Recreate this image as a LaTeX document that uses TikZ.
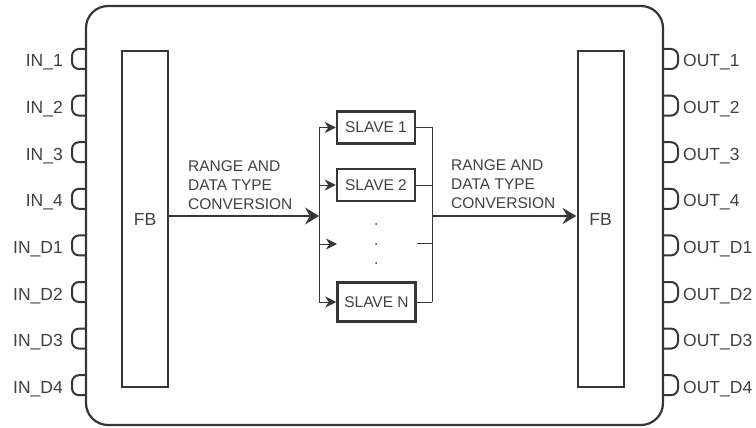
\documentclass[tikz,border=0pt]{standalone}
\usepackage{fontspec}
\setmainfont{Liberation Sans}
\usetikzlibrary{arrows.meta}
\definecolor{ln}{HTML}{363636}
\definecolor{tx}{HTML}{404040}
\begin{document}
\begin{tikzpicture}[x=1pt,y=-1pt,
  every node/.style={text=tx},
  portlbl/.style={font=\fontsize{17.5}{20}\selectfont, inner sep=0pt},
  fbbox/.style={draw=ln, line width=2pt, minimum width=46pt, minimum height=336pt, font=\fontsize{17.5}{20}\selectfont, inner sep=0pt},
  slavebox/.style={draw=ln, line width=2.5pt, minimum width=78pt, minimum height=32pt, font=\fontsize{15.5}{19}\selectfont, inner sep=0pt},
  conv/.style={font=\fontsize{15.5}{19}\selectfont, align=left, inner sep=0pt, anchor=north west},
  bus/.style={draw=ln, line width=1pt},
  feed/.style={draw=ln, line width=1pt, -{Stealth[length=11pt,width=11pt,inset=3.5pt]}},
  mainin/.style={draw=ln, line width=1.3pt, -{Stealth[length=14pt,width=17pt,inset=5pt]}},
  mainout/.style={draw=ln, line width=2.2pt, -{Stealth[length=14pt,width=16pt,inset=5pt]}},
  port/.style={draw=ln, line width=2pt, rounded corners=7pt},
]
\useasboundingbox (0,0) rectangle (756,428);
\draw[ln, line width=2.2pt, rounded corners=22pt] (86,6) rectangle (663,425);

% ports
\foreach \y/\l [count=\i] in {59/IN\_1, 105.6/IN\_2, 152.2/IN\_3, 198.8/IN\_4, 245.4/IN\_D1, 292/IN\_D2, 338.6/IN\_D3, 385.2/IN\_D4} {
  \draw[port] (86,\y-10) -- (72,\y-10) -- (72,\y+10) -- (86,\y+10);
  \node[portlbl, anchor=base east] (inl\i) at (63,\y+8) {\l};
}
\foreach \y/\l [count=\i] in {59/OUT\_1, 105.6/OUT\_2, 152.2/OUT\_3, 198.8/OUT\_4, 245.4/OUT\_D1, 292/OUT\_D2, 338.6/OUT\_D3, 385.2/OUT\_D4} {
  \draw[port] (663,\y-10) -- (678,\y-10) -- (678,\y+10) -- (663,\y+10);
  \node[portlbl, anchor=base west] (outl\i) at (683,\y+8) {\l};
}

% blocks
\node[fbbox] (fbin) at (145,219) {FB};
\node[fbbox] (fbout) at (600.5,219) {FB};
\node[slavebox] (s1) at (376,127.5) {SLAVE 1};
\node[slavebox] (s2) at (376,185) {SLAVE 2};
\node[slavebox, minimum height=39pt] (sn) at (376.5,302) {SLAVE N};

% left bus
\coordinate (lt) at (319,127.5);
\coordinate (lb) at (319,302);
\coordinate (lm) at (319,216);
\coordinate (ld) at (319,244);
\coordinate (dend) at (337,244);
\draw[bus] (lt) -- (lb);
\draw[feed] (lt) -- (s1.west);
\draw[feed] (ld |- s2.west) -- (s2.west);
\draw[feed] (ld) -- (dend);
\draw[feed] (lb) -- (sn.west);
\draw[mainin] (fbin.east |- lm) -- (lm);

% dots
\fill[ln] (376,224) circle (1pt);
\fill[ln] (376,244) circle (1pt);
\fill[ln] (376,263) circle (1pt);

% right bus
\coordinate (rt) at (432,127.5);
\coordinate (rb) at (432,302);
\coordinate (rm) at (432,216);
\coordinate (rd) at (432,243);
\coordinate (dstart) at (417,243);
\draw[bus] (rt) -- (rb);
\draw[bus] (s1.east) -- (rt);
\draw[bus] (s2.east) -- (rt |- s2.east);
\draw[bus] (dstart) -- (rd);
\draw[bus] (sn.east) -- (rb);
\draw[mainout] (rm) -- (fbout.west |- rm);

% labels
\node[conv] (cl) at (188,160) {RANGE AND\\DATA TYPE\\CONVERSION};
\node[conv] (cr) at (451,159) {RANGE AND\\DATA TYPE\\CONVERSION};
\end{tikzpicture}
\end{document}
